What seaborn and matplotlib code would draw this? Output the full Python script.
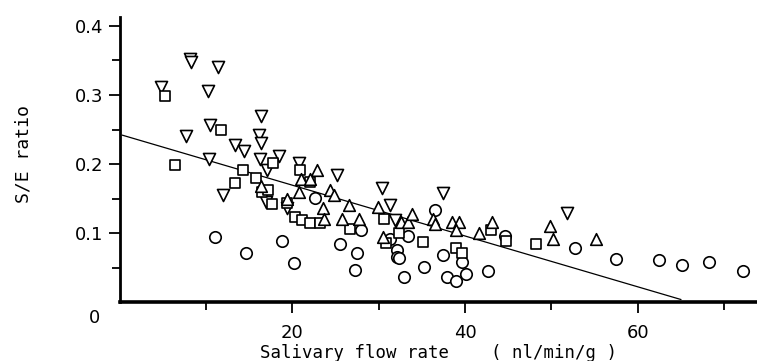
import numpy as np
import pandas as pd
import matplotlib
matplotlib.use("Agg")
import matplotlib.pyplot as plt
import seaborn as sns

sns.set_style("ticks")
plt.rcParams['font.family'] = ['DejaVu Sans']
plt.rcParams['text.color'] = 'black'
plt.rcParams['axes.labelcolor'] = 'black'

# data
down_x = [4.8, 8.1, 8.3, 11.4, 10.2, 10.5, 7.7, 16.4, 16.1, 16.4, 13.4, 14.4, 16.2,
          18.5, 17.1, 10.4, 12.0, 16.9, 19.4, 20.8, 25.2, 30.4, 31.3, 31.9, 37.5, 51.8]
down_y = [0.312, 0.352, 0.348, 0.341, 0.306, 0.256, 0.240, 0.270, 0.242, 0.231, 0.228, 0.219, 0.207,
          0.211, 0.192, 0.207, 0.155, 0.145, 0.136, 0.201, 0.184, 0.166, 0.141, 0.119, 0.158, 0.129]

square_x = [5.3, 11.7, 6.4, 14.3, 15.8, 13.4, 17.8, 16.5, 17.2, 17.7, 19.4, 20.3, 21.1, 22.1,
            23.2, 20.9, 22.1, 26.7, 30.6, 30.9, 32.3, 35.1, 39.0, 39.6, 43.0, 44.7, 48.2]
square_y = [0.298, 0.250, 0.199, 0.192, 0.180, 0.172, 0.201, 0.160, 0.162, 0.142, 0.143, 0.124, 0.119, 0.114,
            0.114, 0.191, 0.174, 0.106, 0.121, 0.085, 0.100, 0.087, 0.079, 0.071, 0.104, 0.088, 0.084]

up_x = [16.4, 19.4, 20.8, 22.8, 21.0, 22.0, 24.4, 24.8, 23.5, 23.7, 25.7, 27.7, 26.6, 29.9,
        32.6, 33.4, 33.9, 30.5, 36.3, 36.5, 38.5, 39.3, 39.0, 41.6, 43.1, 49.8, 50.2, 55.2]
up_y = [0.168, 0.150, 0.160, 0.191, 0.178, 0.179, 0.162, 0.155, 0.136, 0.121, 0.120, 0.120, 0.140, 0.138,
        0.116, 0.116, 0.128, 0.094, 0.121, 0.113, 0.116, 0.116, 0.104, 0.100, 0.116, 0.110, 0.091, 0.091]

circle_x = [11.1, 14.6, 18.8, 20.2, 22.6, 25.5, 27.5, 27.3, 28.0, 31.3, 33.4, 32.1, 32.1, 32.4, 32.9,
            35.3, 36.5, 37.4, 37.9, 39.0, 40.1, 39.7, 42.7, 44.6, 52.7, 57.5, 62.5, 65.1, 68.2, 72.2]
circle_y = [0.094, 0.071, 0.088, 0.056, 0.151, 0.084, 0.071, 0.046, 0.104, 0.091, 0.096, 0.076, 0.066, 0.064, 0.037,
            0.051, 0.134, 0.068, 0.037, 0.031, 0.041, 0.058, 0.045, 0.096, 0.079, 0.063, 0.061, 0.054, 0.058, 0.045]

# regression line
fit_intercept = 0.243
fit_slope = -0.00368
fit_range = [0.3, 65.0]

y_ticks = [0.1, 0.2, 0.3, 0.4]
x_ticks = [20, 40, 60]

df = pd.concat([
    pd.DataFrame({'x': down_x, 'y': down_y, 'group': 'down'}),
    pd.DataFrame({'x': square_x, 'y': square_y, 'group': 'square'}),
    pd.DataFrame({'x': up_x, 'y': up_y, 'group': 'up'}),
    pd.DataFrame({'x': circle_x, 'y': circle_y, 'group': 'circle'}),
], ignore_index=True)

fig = plt.figure(figsize=(7.57, 3.61), dpi=100)
ax = fig.add_axes([0.158, 0.163, 0.842, 0.79])

marker_map = {'down': 'v', 'square': 's', 'up': '^', 'circle': 'o'}
size_map = {'down': 75, 'square': 62, 'up': 70, 'circle': 68}
for grp, sub in df.groupby('group'):
    sns.scatterplot(data=sub, x='x', y='y', marker=marker_map[grp], s=size_map[grp],
                    color='white', edgecolor='black', linewidth=1.2, ax=ax, zorder=3)

fx = np.array(fit_range)
ax.plot(fx, fit_intercept + fit_slope * fx, color='black', lw=0.9, zorder=2)

ax.set_xlim(0, 73.8)
ax.set_ylim(0, 0.413)
sns.despine(ax=ax)
ax.spines['left'].set_linewidth(2.0)
ax.spines['bottom'].set_linewidth(2.6)
ax.spines['left'].set_color('black')
ax.spines['bottom'].set_color('black')

ax.set_yticks(y_ticks)
ax.set_yticklabels([f'{v:.1f}' for v in y_ticks])
ax.set_yticks(np.arange(0.05, 0.41, 0.1), minor=True)
ax.set_xticks(x_ticks)
ax.set_xticks([10, 30, 50, 70], minor=True)
ax.tick_params(axis='both', which='major', length=8, width=1.3, labelsize=13,
               colors='black')
ax.tick_params(axis='both', which='minor', length=6, width=1.3, colors='black')
ax.tick_params(axis='x', which='major', pad=8)
ax.tick_params(axis='y', which='major', pad=4)

ax.text(-0.03, -0.055, '0', transform=ax.transAxes, fontsize=13, ha='right', va='center')

ax.set_xlabel('Salivary flow rate    ( nl/min/g )', fontsize=12.5, family='DejaVu Sans Mono')
ax.xaxis.set_label_coords(0.5, -0.145)
ax.set_ylabel('S/E ratio', fontsize=13, family='DejaVu Sans Mono')
ax.yaxis.set_label_coords(-0.137, 0.52)
ax.grid(False)

fig.savefig('out.png', dpi=100)
